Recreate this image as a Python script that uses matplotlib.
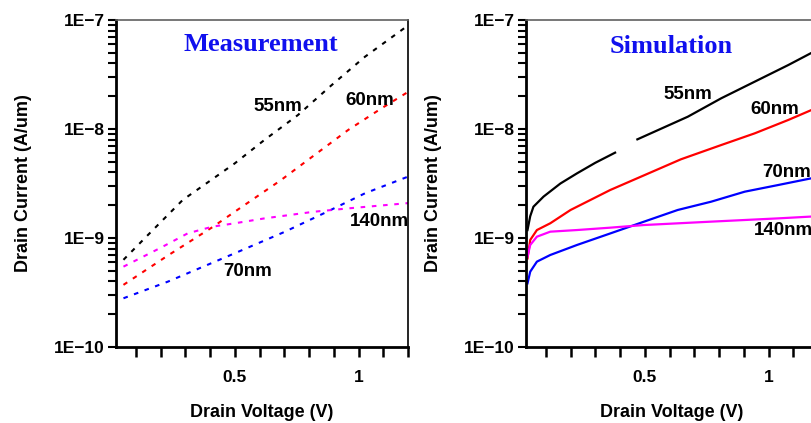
import numpy as np
import matplotlib
matplotlib.use("Agg")
import matplotlib.pyplot as plt
from matplotlib.ticker import LogLocator, FuncFormatter, FixedLocator, NullFormatter
from matplotlib.font_manager import FontProperties

# measurement (dashed) - drain voltage (V) vs log10 drain current (A/um)
meas_55_v = [0.05, 0.15, 0.29, 0.40, 0.50, 0.62, 0.755, 0.89, 1.026, 1.20]
meas_55 = [-9.20, -8.97, -8.65, -8.475, -8.315, -8.10, -7.872, -7.60, -7.337, -7.05]
meas_60_v = [0.05, 0.23, 0.41, 0.51, 0.687, 0.822, 0.958, 1.093, 1.20]
meas_60 = [-9.43, -9.16, -8.90, -8.743, -8.468, -8.239, -8.009, -7.81, -7.66]
meas_70_v = [0.05, 0.23, 0.50, 0.70, 0.863, 1.026, 1.20]
meas_70 = [-9.553, -9.40, -9.14, -8.945, -8.77, -8.59, -8.437]
meas_140_v = [0.05, 0.20, 0.31, 0.41, 0.50, 0.62, 0.82, 0.96, 1.20]
meas_140 = [-9.263, -9.09, -8.957, -8.896, -8.865, -8.82, -8.759, -8.728, -8.68]

# simulation (solid); 55nm trace has a break between 0.38 and 0.47 V
sim_55_v = [0.026, 0.037, 0.05, 0.091, 0.159, 0.226, 0.30, 0.38, 0.42, 0.47, 0.674, 0.809, 0.944, 1.08, 1.20]
sim_55 = [-8.927, -8.80, -8.713, -8.62, -8.50, -8.407, -8.31, -8.217, np.nan, -8.095, -7.887, -7.718, -7.566, -7.413, -7.27]
sim_60_v = [0.026, 0.037, 0.064, 0.118, 0.20, 0.36, 0.50, 0.646, 0.809, 0.944, 1.08, 1.20]
sim_60 = [-9.187, -9.018, -8.927, -8.865, -8.743, -8.56, -8.422, -8.278, -8.147, -8.04, -7.917, -7.80]
sim_70_v = [0.026, 0.037, 0.064, 0.118, 0.226, 0.362, 0.497, 0.633, 0.768, 0.904, 1.039, 1.20]
sim_70 = [-9.416, -9.309, -9.217, -9.156, -9.064, -8.957, -8.85, -8.743, -8.667, -8.575, -8.514, -8.44]
sim_140_v = [0.026, 0.037, 0.064, 0.118, 0.226, 0.362, 0.497, 0.768, 1.039, 1.20]
sim_140 = [-9.171, -9.064, -8.988, -8.942, -8.927, -8.905, -8.881, -8.85, -8.82, -8.80]

colors = {"55nm": "black", "60nm": "#ff0000", "70nm": "#0000ff", "140nm": "#ff00ff"}

tick_font = dict(family="Liberation Sans", weight="bold", size=12.5)


def style_axes(ax):
    ax.set_yscale("log")
    ax.set_ylim(1e-10, 1e-7)
    ax.set_xlim(0.02, 1.2)
    ax.yaxis.set_major_locator(LogLocator(base=10, numticks=10))
    ax.yaxis.set_minor_locator(LogLocator(base=10, subs=np.arange(2, 10), numticks=10))
    ax.yaxis.set_minor_formatter(NullFormatter())
    ax.yaxis.set_major_formatter(FuncFormatter(lambda v, p: "1E\u2212%d" % round(-np.log10(v))))
    ax.xaxis.set_major_locator(FixedLocator([0.5, 1.0]))
    ax.xaxis.set_major_formatter(FuncFormatter(lambda v, p: "%g" % v))
    ax.xaxis.set_minor_locator(FixedLocator([0.1, 0.2, 0.3, 0.4, 0.6, 0.7, 0.8, 0.9, 1.1, 1.2]))
    ax.tick_params(axis="y", which="both", direction="out", length=6, width=1.5, pad=2)
    ax.tick_params(axis="x", which="both", direction="out", length=7, width=1.8, pad=9.5)
    for lab in ax.get_xticklabels() + ax.get_yticklabels():
        lab.set_fontproperties(FontProperties(**tick_font))
    ax.spines["left"].set_linewidth(2)
    ax.spines["bottom"].set_linewidth(2)
    ax.spines["right"].set_linewidth(1.2)
    ax.spines["top"].set_linewidth(1.2)
    ax.spines["top"].set_color("#606060")
    ax.set_xlabel("Drain Voltage (V)", family="Liberation Sans", weight="bold", size=13, labelpad=14)
    ax.set_ylabel("Drain Current (A/um)", family="Liberation Sans", weight="bold", size=13, labelpad=16)


fig = plt.figure(figsize=(8.12, 4.23), dpi=100)
ax1 = fig.add_axes([0.1429, 0.1797, 0.3596, 0.773])
ax2 = fig.add_axes([0.6478, 0.1797, 0.3596, 0.773])

dash = (0, (2.2, 3.2))
ax1.plot(meas_55_v, 10 ** np.array(meas_55), color=colors["55nm"], lw=1.5, ls=dash)
ax1.plot(meas_60_v, 10 ** np.array(meas_60), color=colors["60nm"], lw=1.5, ls=dash)
ax1.plot(meas_70_v, 10 ** np.array(meas_70), color=colors["70nm"], lw=1.5, ls=dash)
ax1.plot(meas_140_v, 10 ** np.array(meas_140), color=colors["140nm"], lw=1.5, ls=dash)

ax2.plot(sim_55_v, 10 ** np.array(sim_55), color=colors["55nm"], lw=1.6)
ax2.plot(sim_60_v, 10 ** np.array(sim_60), color=colors["60nm"], lw=1.6)
ax2.plot(sim_70_v, 10 ** np.array(sim_70), color=colors["70nm"], lw=1.6)
ax2.plot(sim_140_v, 10 ** np.array(sim_140), color=colors["140nm"], lw=1.6)

for ax in (ax1, ax2):
    style_axes(ax)

lab_font = dict(family="Liberation Sans", weight="bold", size=13.5, ha="center", va="center")
ax1.text(0.675, 10 ** -7.789, "55nm", **lab_font)
ax1.text(1.045, 10 ** -7.743, "60nm", **lab_font)
ax1.text(1.085, 10 ** -8.853, "140nm", **lab_font)
ax1.text(0.553, 10 ** -9.312, "70nm", **lab_font)
ax1.text(0.606, 10 ** -7.229, "Measurement", family="Liberation Serif", weight="bold",
         size=19, color="#1010ee", ha="center", va="center")

ax2.text(0.674, 10 ** -7.682, "55nm", **lab_font)
ax2.text(1.026, 10 ** -7.819, "60nm", **lab_font)
ax2.text(1.073, 10 ** -8.40, "70nm", **lab_font)
ax2.text(1.06, 10 ** -8.927, "140nm", **lab_font)
ax2.text(0.606, 10 ** -7.245, "Simulation", family="Liberation Serif", weight="bold",
         size=19, color="#1010ee", ha="center", va="center")

fig.savefig("out.png", dpi=100)
